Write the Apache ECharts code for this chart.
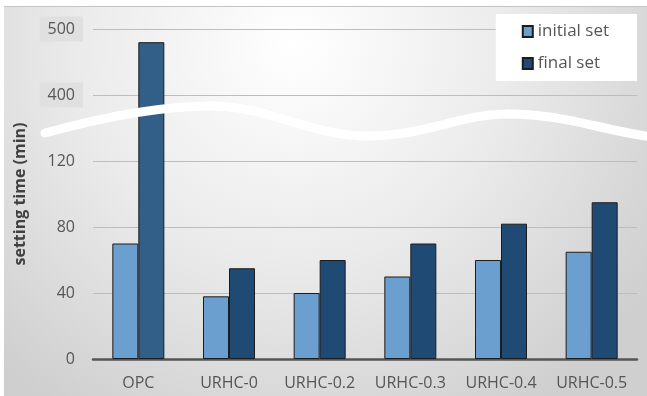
<!DOCTYPE html>
<html>
<head>
<meta charset="utf-8">
<script src="https://cdn.jsdelivr.net/npm/echarts@6/dist/echarts.min.js"></script>
<style>
  html, body { margin: 0; padding: 0; background: #ffffff; }
  #chart { width: 647px; height: 396px; }
</style>
</head>
<body>
<div id="chart"></div>
<script>
// Setting time of each mix (minutes)
const categories = ['OPC', 'URHC-0', 'URHC-0.2', 'URHC-0.3', 'URHC-0.4', 'URHC-0.5'];
const initialSet = [70, 38, 40, 50, 60, 65];
const finalSet = [480, 55, 60, 70, 82, 95];
// Broken value axis: equal spacing between these ticks, gap between 120 and 400
const tickValues = [0, 40, 80, 120, 400, 500];

// Map a real value onto the piecewise axis (one unit per tick step)
function toAxis(v) {
  for (let i = 0; i < tickValues.length - 1; i++) {
    const a = tickValues[i], b = tickValues[i + 1];
    if (v <= b || i === tickValues.length - 2) {
      return i + (v - a) / (b - a);
    }
  }
  return 0;
}

const chart = echarts.init(document.getElementById('chart'), null, { renderer: 'canvas' });

const FONT = '"Open Sans", "DejaVu Sans", sans-serif';
const TEXT = '#565656';

// the compressed upper part of the axis is boxed
function tickLabel(idx) {
  const t = tickValues[idx];
  if (t === undefined) return '';
  return idx >= 4 ? '{hi|' + t + '}' : '{n|' + t + '}{sp|}';
}

// white wavy band marking the axis break
const waveStyle = { stroke: '#ffffff', lineWidth: 9, lineCap: 'round', fill: null };
const waveSegs = [
  [45, 133, 100, 118, 160, 106, 210, 106],
  [210, 106, 270, 106, 310, 136, 368, 136],
  [368, 136, 425, 136, 460, 114, 508, 114],
  [508, 114, 565, 114, 600, 130, 652, 137]
];

const backdrop = {
  type: 'rect', z: -10, silent: true,
  shape: { x: 4, y: 6, width: 643, height: 390 },
  style: {
    fill: new echarts.graphic.RadialGradient(0.45, 0.1, 1.1, [
      { offset: 0, color: '#ffffff' },
      { offset: 0.5, color: '#ebebeb' },
      { offset: 1, color: '#cfcfcf' }
    ])
  }
};
const topEdge = {
  type: 'line', z: -9, silent: true,
  shape: { x1: 4, y1: 6.5, x2: 647, y2: 6.5 },
  style: { stroke: '#c4c4c4', lineWidth: 1 }
};

const waves = waveSegs.map(function (s) {
  return {
    type: 'bezierCurve', z: 50, silent: true,
    shape: { x1: s[0], y1: s[1], cpx1: s[2], cpy1: s[3], cpx2: s[4], cpy2: s[5], x2: s[6], y2: s[7] },
    style: waveStyle
  };
});

const option = {
  animation: false,
  graphic: { elements: [backdrop, topEdge].concat(waves) },
  legend: {
    orient: 'vertical',
    right: 10, top: 14,
    backgroundColor: '#ffffff',
    padding: [9, 28, 9, 26],
    itemGap: 15,
    itemWidth: 10, itemHeight: 11,
    icon: 'rect',
    z: 60,
    textStyle: { color: TEXT, fontSize: 17, fontFamily: FONT },
    data: ['initial set', 'final set']
  },
  grid: { left: 93, right: 10, top: 29, bottom: 37 },
  xAxis: {
    type: 'category',
    data: categories,
    axisTick: { show: false },
    axisLine: { lineStyle: { color: '#555555', width: 2.5 } },
    axisLabel: { interval: 0, color: TEXT, fontSize: 16, fontFamily: FONT, margin: 16 }
  },
  yAxis: {
    type: 'value',
    min: 0, max: tickValues.length - 1, interval: 1,
    name: 'setting time (min)',
    nameLocation: 'middle',
    nameRotate: 90,
    nameGap: 65,
    nameTextStyle: { color: '#404040', fontSize: 16, fontWeight: 'bold', fontFamily: FONT },
    axisLine: { show: false },
    axisTick: { show: false },
    splitLine: { lineStyle: { color: '#bdbdbd', width: 1 } },
    axisLabel: {
      margin: 10,
      color: TEXT, fontSize: 16, fontFamily: FONT,
      formatter: function (v) { return tickLabel(Math.round(v)); },
      rich: {
        n: { color: TEXT, fontSize: 16, fontFamily: FONT },
        sp: { width: 8 },
        hi: { color: TEXT, fontSize: 16, fontFamily: FONT, backgroundColor: '#e0e0e0', padding: [5, 8, 4, 8] }
      }
    }
  },
  series: [
    {
      name: 'initial set',
      type: 'bar',
      barWidth: 26,
      barGap: '0%',
      itemStyle: { color: '#6a9fd0', borderColor: '#1c1c1c', borderWidth: 1 },
      data: initialSet.map(toAxis)
    },
    {
      name: 'final set',
      type: 'bar',
      barWidth: 26,
      itemStyle: { color: '#1f4a74', borderColor: '#1c1c1c', borderWidth: 1 },
      data: finalSet.map(function (v, i) {
        const d = { value: toAxis(v) };
        // the tall bar crossing the axis break is drawn lighter
        if (v > tickValues[3]) d.itemStyle = { color: '#325f88' };
        return d;
      })
    }
  ]
};

chart.setOption(option);
</script>
</body>
</html>
